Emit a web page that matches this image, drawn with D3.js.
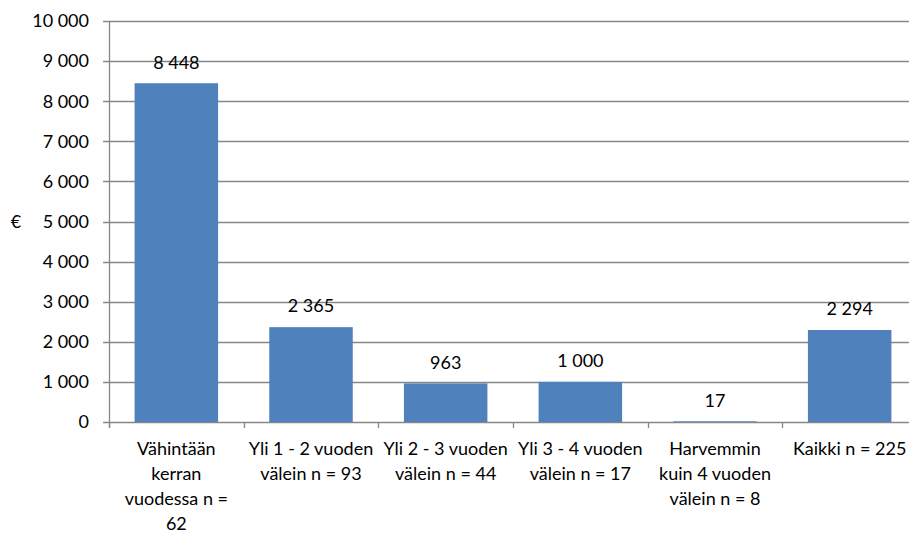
<!DOCTYPE html>
<html>
<head>
<meta charset="utf-8">
<script src="https://cdn.jsdelivr.net/npm/d3@7"></script>
<style>
  body { margin: 0; background: #fff; }
  svg { display: block; font-family: Lato, "Open Sans", sans-serif; }
</style>
</head>
<body>
<svg width="909" height="534"></svg>
<script>
// category labels (already split into lines as in the picture)
var categories = [
  ["Vähintään", "kerran", "vuodessa n =", "62"],
  ["Yli 1 - 2 vuoden", "välein n = 93"],
  ["Yli 2 - 3 vuoden", "välein n = 44"],
  ["Yli 3 - 4 vuoden", "välein n = 17"],
  ["Harvemmin", "kuin 4 vuoden", "välein n = 8"],
  ["Kaikki n = 225"]
];
var values = [8448, 2365, 963, 1000, 17, 2294];
var yTicks = [0, 1000, 2000, 3000, 4000, 5000, 6000, 7000, 8000, 9000, 10000];

var svg = d3.select("svg");
var plotLeft = 109, plotRight = 917, plotTop = 21, plotBottom = 422;
var fontSize = 18;

var fmt = function(v) {
  return d3.format(",")(v).replace(/,/g, " ");
};

var x = d3.scaleBand()
  .domain(d3.range(categories.length))
  .range([plotLeft, plotRight])
  .paddingInner(0.38)
  .paddingOuter(0.19);

var y = d3.scaleLinear()
  .domain([0, 10000])
  .range([plotBottom, plotTop]);

// gridlines
svg.append("g")
  .selectAll("line")
  .data(yTicks)
  .enter().append("line")
  .attr("x1", plotLeft - 6)
  .attr("x2", plotRight)
  .attr("y1", d => Math.round(y(d)) + 0.5)
  .attr("y2", d => Math.round(y(d)) + 0.5)
  .attr("stroke", "#878787")
  .attr("stroke-width", 1.3);

// y labels
svg.append("g")
  .selectAll("text")
  .data(yTicks)
  .enter().append("text")
  .attr("x", 89)
  .attr("y", d => y(d))
  .attr("dy", "0.35em")
  .attr("text-anchor", "end")
  .attr("font-size", fontSize)
  .text(fmt);

// bars
svg.append("g")
  .selectAll("rect")
  .data(values)
  .enter().append("rect")
  .attr("x", (d, i) => x(i))
  .attr("width", x.bandwidth())
  .attr("y", d => y(d))
  .attr("height", d => y(0) - y(d))
  .attr("fill", "#4f81bd");

// value labels
svg.append("g")
  .selectAll("text")
  .data(values)
  .enter().append("text")
  .attr("x", (d, i) => x(i) + x.bandwidth() / 2)
  .attr("y", d => y(d) - 21)
  .attr("dy", "0.35em")
  .attr("text-anchor", "middle")
  .attr("font-size", fontSize)
  .text(fmt);

// y axis line
svg.append("line")
  .attr("x1", plotLeft + 0.5).attr("x2", plotLeft + 0.5)
  .attr("y1", plotTop).attr("y2", plotBottom + 6)
  .attr("stroke", "#878787")
  .attr("stroke-width", 1.3);

// x category ticks
var n = categories.length;
svg.append("g")
  .selectAll("line")
  .data(d3.range(n + 1))
  .enter().append("line")
  .attr("x1", i => Math.round(plotLeft + i * (plotRight - plotLeft) / n) + 0.5)
  .attr("x2", i => Math.round(plotLeft + i * (plotRight - plotLeft) / n) + 0.5)
  .attr("y1", plotBottom)
  .attr("y2", plotBottom + 6)
  .attr("stroke", "#878787")
  .attr("stroke-width", 1.3);

// category labels
var cat = svg.append("g")
  .selectAll("text")
  .data(categories)
  .enter().append("text")
  .attr("text-anchor", "middle")
  .attr("font-size", fontSize);

cat.selectAll("tspan")
  .data((d, i) => d.map(t => ({t: t, i: i})))
  .enter().append("tspan")
  .attr("x", d => x(d.i) + x.bandwidth() / 2)
  .attr("y", (d, j) => 449 + j * 25)
  .attr("dy", "0.35em")
  .text(d => d.t);

// unit label
svg.append("text")
  .attr("x", 16)
  .attr("y", 222)
  .attr("dy", "0.35em")
  .attr("text-anchor", "middle")
  .attr("font-size", fontSize)
  .text("€");
</script>
</body>
</html>
